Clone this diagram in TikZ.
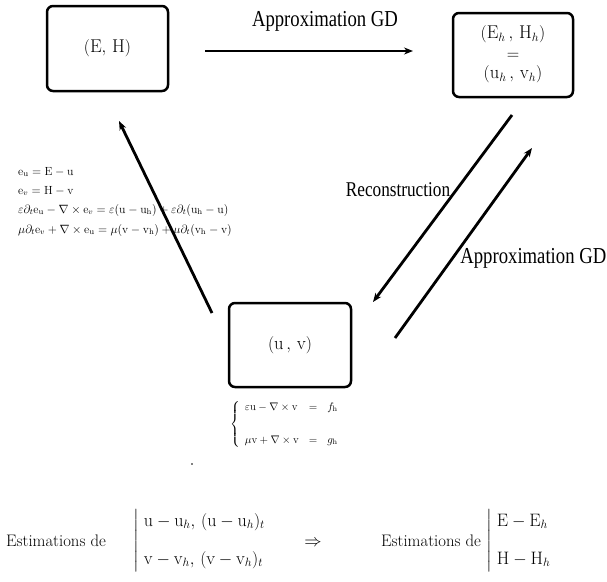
\documentclass[tikz,border=0pt]{standalone}
\usepackage{fontspec}
\usepackage{amsmath}
\newfontfamily\tms{Liberation Serif}
\usetikzlibrary{arrows.meta}
\begin{document}
\begin{tikzpicture}[x=1pt,y=-1pt,
  box/.style={draw, line width=2.5pt, rounded corners=6pt, inner sep=0pt, font=\fontsize{18.5}{18.5}\selectfont},
  arr/.style={line width=2.8pt, -{Stealth[length=9pt,width=7pt]}},
  lbl/.style={inner sep=0pt, font=\tms\fontsize{22.8}{26}\selectfont},
  lbls/.style={inner sep=0pt, font=\tms\fontsize{21}{24}\selectfont},
  eqn/.style={inner sep=0pt, anchor=west, font=\fontsize{11.8}{14}\selectfont},
  sys/.style={inner sep=0pt, font=\fontsize{11}{13}\selectfont},
  main/.style={inner sep=0pt, font=\fontsize{16.7}{20}\selectfont},
  err/.style={inner sep=0pt, anchor=west, font=\fontsize{18}{20}\selectfont}]
\useasboundingbox (0,0) rectangle (607,581);

% boxes
\node[box, minimum width=121pt, minimum height=85pt] (EH) at (107.5,48.5) {$(\mathrm{E},\,\mathrm{H})$};
\node[box, minimum width=120pt, minimum height=84pt] (EhHh) at (513,55)
  {$\begin{array}{c}(\mathrm{E}_h\,,\,\mathrm{H}_h)\\[2pt] =\\[1pt] (\mathrm{u}_h\,,\,\mathrm{v}_h)\end{array}$};
\node[box, minimum width=122pt, minimum height=84pt] (uv) at (290,345) {$(\mathrm{u}\,,\,\mathrm{v})$};

% arrow ends
\coordinate (t1) at (205,51);
\coordinate (t2) at (413,51);
\coordinate (l1) at (212,313);
\coordinate (l2) at (119,121);
\coordinate (r1) at (512,115);
\coordinate (r2) at (373,302);
\coordinate (g1) at (395,338);
\coordinate (g2) at (532,148);

\draw[arr] (t1) -- (t2);
\draw[arr] (l1) -- (l2);
\draw[arr] (r1) -- (r2);
\draw[arr] (g1) -- (g2);

% labels
\node[lbl] (lt) at (325,21) {\scalebox{0.82}[1]{Approximation GD}};
\node[lbls] (lr) at (398,190) {\scalebox{0.82}[1]{Reconstruction}};
\node[lbl, anchor=east] (lg) at (606.5,258) {\scalebox{0.82}[1]{Approximation GD}};

% left equations
\node[eqn] (e1) at (18,172) {$\mathrm{e}_{\mathrm{u}} = \mathrm{E}-\mathrm{u}$};
\node[eqn] (e2) at (18,191) {$\mathrm{e}_{v} = \mathrm{H}-\mathrm{v}$};
\node[eqn] (e3) at (18,210) {$\varepsilon\partial_t\mathrm{e}_{\mathrm{u}}-\nabla\times\mathrm{e}_v=\varepsilon(\mathrm{u}-\mathrm{u}_{\mathrm{h}})+\varepsilon\partial_t(\mathrm{u}_{\mathrm{h}}-\mathrm{u})$};
\node[eqn] (e4) at (18,230) {$\mu\partial_t\mathrm{e}_v+\nabla\times\mathrm{e}_{\mathrm{u}}=\mu(\mathrm{v}-\mathrm{v}_{\mathrm{h}})+\mu\partial_t(\mathrm{v}_{\mathrm{h}}-\mathrm{v})$};

% system under (u,v)
\node[sys, anchor=west] (s) at (230,424)
  {$\left\{\begin{array}{lcl}\varepsilon\mathrm{u}-\nabla\times\mathrm{v} & = & f_{\mathrm{h}}\\[20pt] \mu\mathrm{v}+\nabla\times\mathrm{v} & = & g_{\mathrm{h}}\end{array}\right.$};
\fill (192,464) circle (0.9pt);

% bottom row
\node[main] (est1) at (56,541) {Estimations de};
\node[err] (err1) at (133,541)
  {$\left|\begin{array}{l}\mathrm{u}-\mathrm{u}_h,\,(\mathrm{u}-\mathrm{u}_h)_t\\[18pt] \mathrm{v}-\mathrm{v}_h,\,(\mathrm{v}-\mathrm{v}_h)_t\end{array}\right.$};
\node[err, anchor=center] (impl) at (313,543) {$\Rightarrow$};
\node[main] (est2) at (431,541) {Estimations de};
\node[err] (err2) at (486,541)
  {$\left|\begin{array}{l}\mathrm{E}-\mathrm{E}_h\\[18pt] \mathrm{H}-\mathrm{H}_h\end{array}\right.$};
\end{tikzpicture}
\end{document}
